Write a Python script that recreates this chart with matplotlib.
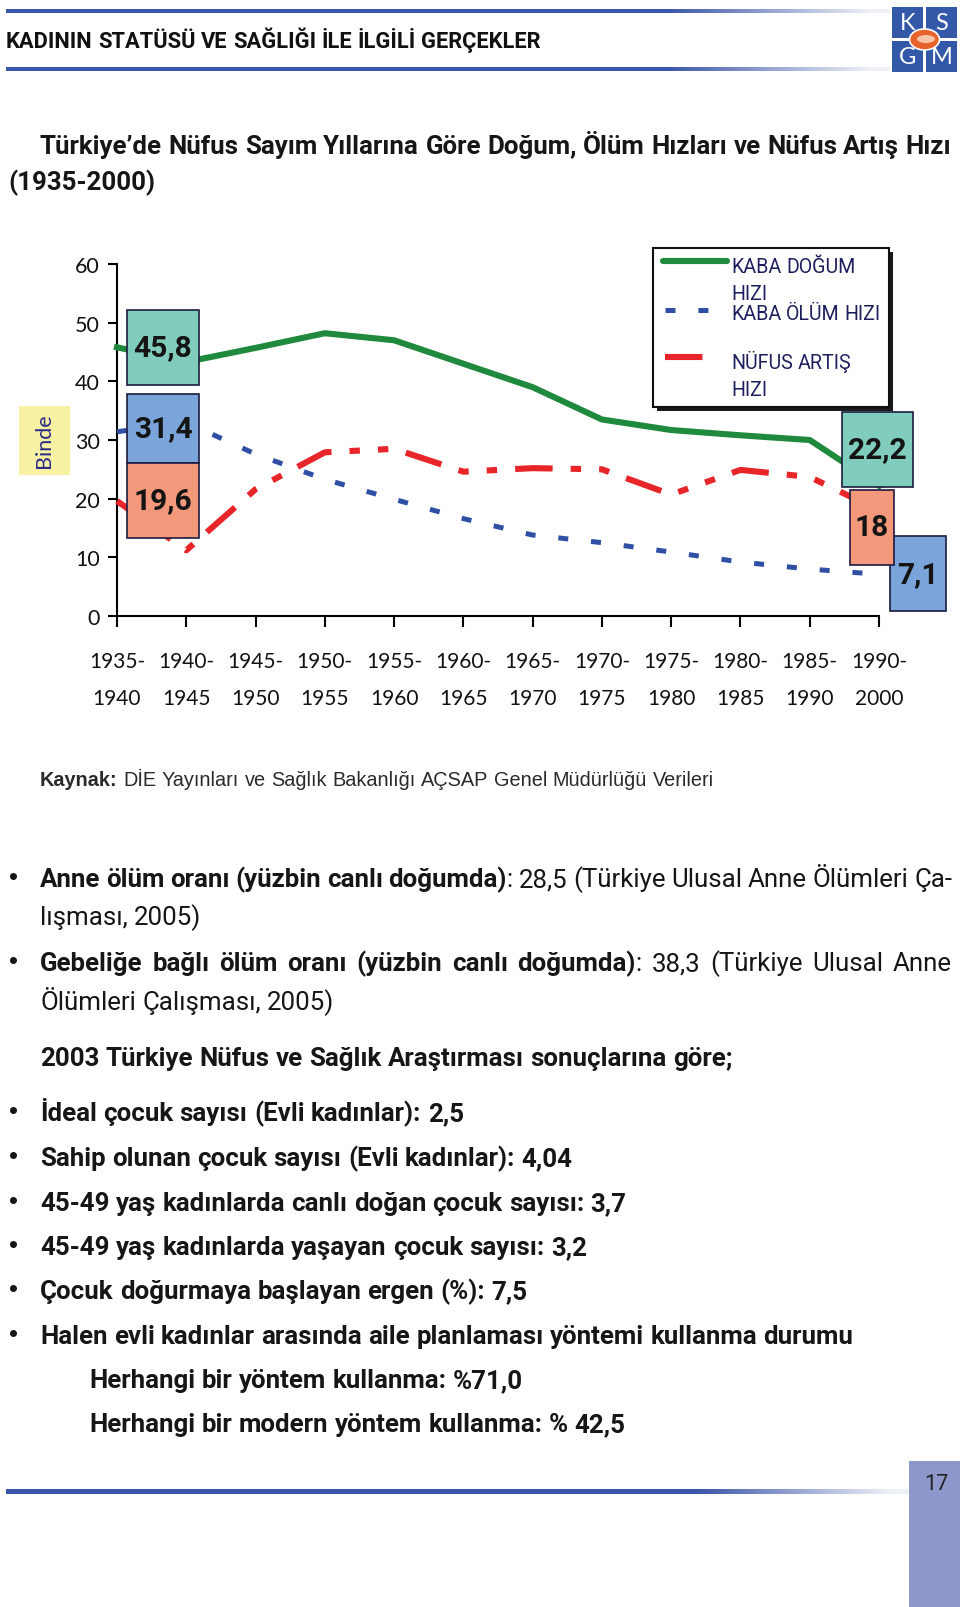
import numpy as np
import matplotlib
matplotlib.use("Agg")
from matplotlib import pyplot as plt
from matplotlib.patches import Rectangle, Ellipse
from matplotlib.lines import Line2D

plt.rcParams["lines.scale_dashes"] = False

# chart data
periods = ["1935-\n1940", "1940-\n1945", "1945-\n1950", "1950-\n1955", "1955-\n1960",
           "1960-\n1965", "1965-\n1970", "1970-\n1975", "1975-\n1980", "1980-\n1985",
           "1985-\n1990", "1990-\n2000"]
birth = [45.8, 43.3, 45.7, 48.2, 47.0, 43.0, 39.0, 33.5, 31.7, 30.8, 30.0, 22.2]
death = [31.4, 33.0, 27.6, 23.3, 19.9, 16.6, 13.8, 12.5, 10.9, 9.2, 8.0, 7.1]
growth = [19.6, 11.2, 21.6, 27.9, 28.5, 24.6, 25.2, 25.0, 20.7, 24.9, 23.7, 18.0]
yticks = [0, 10, 20, 30, 40, 50, 60]
legend_lines = [["KABA DOĞUM", "HIZI"], ["KABA ÖLÜM HIZI"], ["NÜFUS ARTIŞ", "HIZI"]]

header = "KADININ STATÜSÜ VE SAĞLIĞI İLE İLGİLİ GERÇEKLER"
title1 = "Türkiye’de Nüfus Sayım Yıllarına Göre Doğum, Ölüm Hızları ve Nüfus Artış Hızı"
title2 = "(1935-2000)"
source = [("Kaynak:", "bold"), (" DİE Yayınları ve Sağlık Bakanlığı AÇSAP Genel Müdürlüğü Verileri", "normal")]
facts = [
    [("Anne ölüm oranı (yüzbin canlı doğumda)", "bold"), (": 28,5 (Türkiye Ulusal Anne Ölümleri Ça-", "normal")],
    [("lışması, 2005)", "normal")],
    [("Gebeliğe bağlı ölüm oranı (yüzbin canlı doğumda)", "bold"), (": 38,3 (Türkiye Ulusal Anne", "normal")],
    [("Ölümleri Çalışması, 2005)", "normal")],
]
survey_head = "2003 Türkiye Nüfus ve Sağlık Araştırması sonuçlarına göre;"
survey = ["İdeal çocuk sayısı (Evli kadınlar): 2,5",
          "Sahip olunan çocuk sayısı (Evli kadınlar): 4,04",
          "45-49 yaş kadınlarda canlı doğan çocuk sayısı: 3,7",
          "45-49 yaş kadınlarda yaşayan çocuk sayısı: 3,2",
          "Çocuk doğurmaya başlayan ergen (%): 7,5",
          "Halen evli kadınlar arasında aile planlaması yöntemi kullanma durumu"]
survey_sub = ["Herhangi bir yöntem kullanma: %71,0",
              "Herhangi bir modern yöntem kullanma: % 42,5"]

GREEN = "#1f8a3e"
BLUE = "#2f4fa5"
RED = "#e8262a"
NAVY = "#1f1f5e"
BAR = np.array([0.235, 0.345, 0.655])
TXT = "#161616"
NARROW = ["Liberation Sans Narrow", "Roboto", "DejaVu Sans"]
WIDE = ["Liberation Sans", "DejaVu Sans"]
CH = ["Lato", "DejaVu Sans"]

W, H = 960, 1608
fig = plt.figure(figsize=(W / 100, H / 100), dpi=100)


def px(x0, y0, x1, y1):
    return [x0 / W, 1 - y1 / H, (x1 - x0) / W, (y1 - y0) / H]


# ---------------- chart ----------------
ax = fig.add_axes(px(117, 265, 879, 617))
ax.patch.set_alpha(0)
x = np.arange(len(periods))
ax.plot(x, birth, color=GREEN, lw=4.4, solid_joinstyle="round", clip_on=False, zorder=3)
ax.plot(x, death, color=BLUE, lw=3.6, dashes=(7.2, 16.5), dash_capstyle="butt",
        clip_on=False, zorder=3)
ax.plot(x, growth, color=RED, lw=4.4, dashes=(27, 13, 7.5, 13, 7.5, 13),
        dash_capstyle="butt", clip_on=False, zorder=3)
ax.set_xlim(0, 11)
ax.set_ylim(0, 60)
for s in ["top", "right"]:
    ax.spines[s].set_visible(False)
for s in ["left", "bottom"]:
    ax.spines[s].set_linewidth(1.5)
ax.set_xticks(x)
ax.set_xticklabels(periods, family=CH, fontsize=15, linespacing=2.1, color="#111")
ax.set_yticks(yticks)
ax.set_yticklabels([str(v) for v in yticks], family=CH, fontsize=15.5, color="#111")
ax.tick_params(axis="x", length=8, width=1.5, pad=17)
ax.tick_params(axis="y", length=6.5, width=1.5, pad=6)

# value boxes: (series, index, dx, dy, width, height, fill)
boxes = [
    (birth, 0, 0.664, 0.0, 1.04, 12.8, "#80cdbd"),
    (death, 0, 0.664, 0.55, 1.04, 11.7, "#7ba5da"),
    (growth, 0, 0.664, 0.1, 1.04, 12.8, "#f4987b"),
    (birth, 11, -0.02, 6.2, 1.02, 12.8, "#80cdbd"),
    (death, 11, 0.565, 0.1, 0.81, 12.75, "#7ba5da"),
    (growth, 11, -0.10, -2.9, 0.64, 12.8, "#f4987b"),
]
for ser, i, dx, dy, bw, bh, fc in boxes:
    cx, cy = i + dx, ser[i] + dy
    ax.add_patch(Rectangle((cx - bw / 2, cy - bh / 2), bw, bh, facecolor=fc,
                           edgecolor="#1c1c40", lw=1.2, clip_on=False, zorder=4))
    lab = ("%.1f" % ser[i]).replace(".", ",")
    if lab.endswith(",0"):
        lab = lab[:-2]
    ax.text(cx, cy, lab, ha="center", va="center", family=["Roboto", "DejaVu Sans"],
            fontweight="bold", fontsize=21.5, color="#141414", zorder=5, clip_on=False)

# ---------------- decoration layer in pixel coordinates ----------------
deco = fig.add_axes([0, 0, 1, 1])
deco.axis("off")
r = fig.canvas.get_renderer()


def tw(s, size, weight="normal", family=NARROW):
    t = deco.text(0, 0, s, fontsize=size, fontweight=weight, family=family)
    w = t.get_window_extent(renderer=r).width
    t.remove()
    return w


def words_of(parts):
    words = [[]]
    for text, wt in parts:
        pieces = text.split(" ")
        for k, p in enumerate(pieces):
            if k > 0:
                words.append([])
            if p:
                words[-1].append((p, wt))
    return [w for w in words if w]


def natural(parts, size, family=NARROW):
    words = words_of(parts)
    sp = tw("x x", size, family=family) - tw("xx", size, family=family)
    return sum(tw(s, size, wt, family) for w in words for s, wt in w) + sp * (len(words) - 1)


def line(x0, yc, parts, size, family=NARROW, width=None, color=TXT):
    words = words_of(parts)
    ww = [[tw(s, size, wt, family) for s, wt in w] for w in words]
    sp = tw("x x", size, family=family) - tw("xx", size, family=family)
    if width is not None and len(words) > 1:
        sp = (width - sum(sum(a) for a in ww)) / (len(words) - 1)
    base = yc + 0.36 * size * 100 / 72
    cx = x0
    for w, wl in zip(words, ww):
        for (s, wt), a in zip(w, wl):
            deco.text(cx, base, s, fontsize=size, fontweight=wt, family=family,
                      color=color, va="baseline", ha="left")
            cx += a
        cx += sp


def fit(parts, target, family=NARROW):
    return 10 * target / natural(parts, 10, family)


def hbar(x0, x1, y0, y1, fade0):
    n = 400
    xs = np.linspace(x0, x1, n)
    a = np.clip((x1 - xs) / (x1 - fade0), 0.08, 1.0)
    img = np.ones((1, n, 4))
    img[0, :, :3] = BAR
    img[0, :, 3] = a
    deco.imshow(img, extent=(x0, x1, y1, y0), aspect="auto", interpolation="bilinear", zorder=1)


# header
hbar(6, 890, 9.5, 13.5, 670)
hbar(6, 890, 67.5, 71.5, 670)
hs = fit([(header, "bold")], 533)
line(6, 40, [(header, "bold")], hs, color="#111")

# logo
for (lx, ly, ch) in [(892, 8, "K"), (926, 8, "S"), (892, 42, "G"), (926, 42, "M")]:
    deco.add_patch(Rectangle((lx, ly), 31, 31, facecolor="#3358a8", edgecolor="none", zorder=2))
    deco.text(lx + 15.5, ly + 16, ch, ha="center", va="center", color="white",
              fontsize=17, family=CH, zorder=3)
deco.add_patch(Ellipse((924.5, 40.5), 30, 21, facecolor="#e8632c", edgecolor="white", lw=1.2, zorder=4))
deco.add_patch(Ellipse((926, 40), 18, 8, facecolor="#f7c6a8", edgecolor="none", zorder=5))

# title
ts = fit([(title1, "bold")], 912)
line(40, 145, [(title1, "bold")], ts)
line(8, 181, [(title2, "bold")], ts)

# y label box
deco.add_patch(Rectangle((19, 407), 51, 69, facecolor="#f6f1a3", edgecolor="none", zorder=2))
deco.text(44, 441, "Binde", rotation=90, ha="center", va="center", color="#2b2b86",
          fontsize=15.5, family=CH, zorder=3)

# legend
deco.add_patch(Rectangle((657, 253), 236, 159, facecolor="#1a1a1a", edgecolor="none", zorder=2))
deco.add_patch(Rectangle((653, 249), 236, 159, facecolor="white", edgecolor="#111", lw=1.5, zorder=3))
deco.add_line(Line2D([663, 727], [262, 262], color=GREEN, lw=4.4, solid_capstyle="round", zorder=4))
deco.add_line(Line2D([665, 708], [311, 311], color=BLUE, lw=3.6, dashes=(7.2, 16.5),
                     dash_capstyle="butt", zorder=4))
deco.add_line(Line2D([665, 703], [358, 358], color=RED, lw=4.4, dashes=(27, 13),
                     dash_capstyle="butt", zorder=4))
ls = fit([("KABA ÖLÜM HIZI", "normal")], 149)
for txt, yc in zip([legend_lines[0][0], legend_lines[0][1], legend_lines[1][0],
                    legend_lines[2][0], legend_lines[2][1]], [266, 293, 313, 362, 389]):
    line(731, yc, [(txt, "normal")], ls, color=NAVY)

# source
ss = fit(source, 676, WIDE)
line(40, 779, source, ss, family=WIDE, color="#2a2a2a")

# facts
bs = fit([(survey[-1], "bold")], 814)
fact_y = [878, 916, 962, 1001]
just = [True, False, True, False]
for parts, yc, j in zip(facts, fact_y, just):
    line(40, yc, parts, bs, width=912 if j else None)
for yc in [878, 962]:
    deco.text(14, yc, "•", ha="center", va="center", fontsize=bs, color=TXT, family=WIDE)

line(40, 1057, [(survey_head, "bold")], bs)
sy = [1112, 1157, 1202, 1246, 1290, 1335]
for s, yc in zip(survey, sy):
    line(40, yc, [(s, "bold")], bs)
    deco.text(14, yc, "•", ha="center", va="center", fontsize=bs, color=TXT, family=WIDE)
for s, yc in zip(survey_sub, [1379, 1423]):
    line(89, yc, [(s, "bold")], bs)

# footer
hbar(6, 909, 1490, 1495, 700)
deco.add_patch(Rectangle((909, 1462), 51, 146, facecolor="#8e97cb", edgecolor="none", zorder=2))
line(924, 1482, [("17", "normal")], 15.5, color="#222")

deco.set_xlim(0, W)
deco.set_ylim(H, 0)

fig.savefig("out.png", dpi=100)
